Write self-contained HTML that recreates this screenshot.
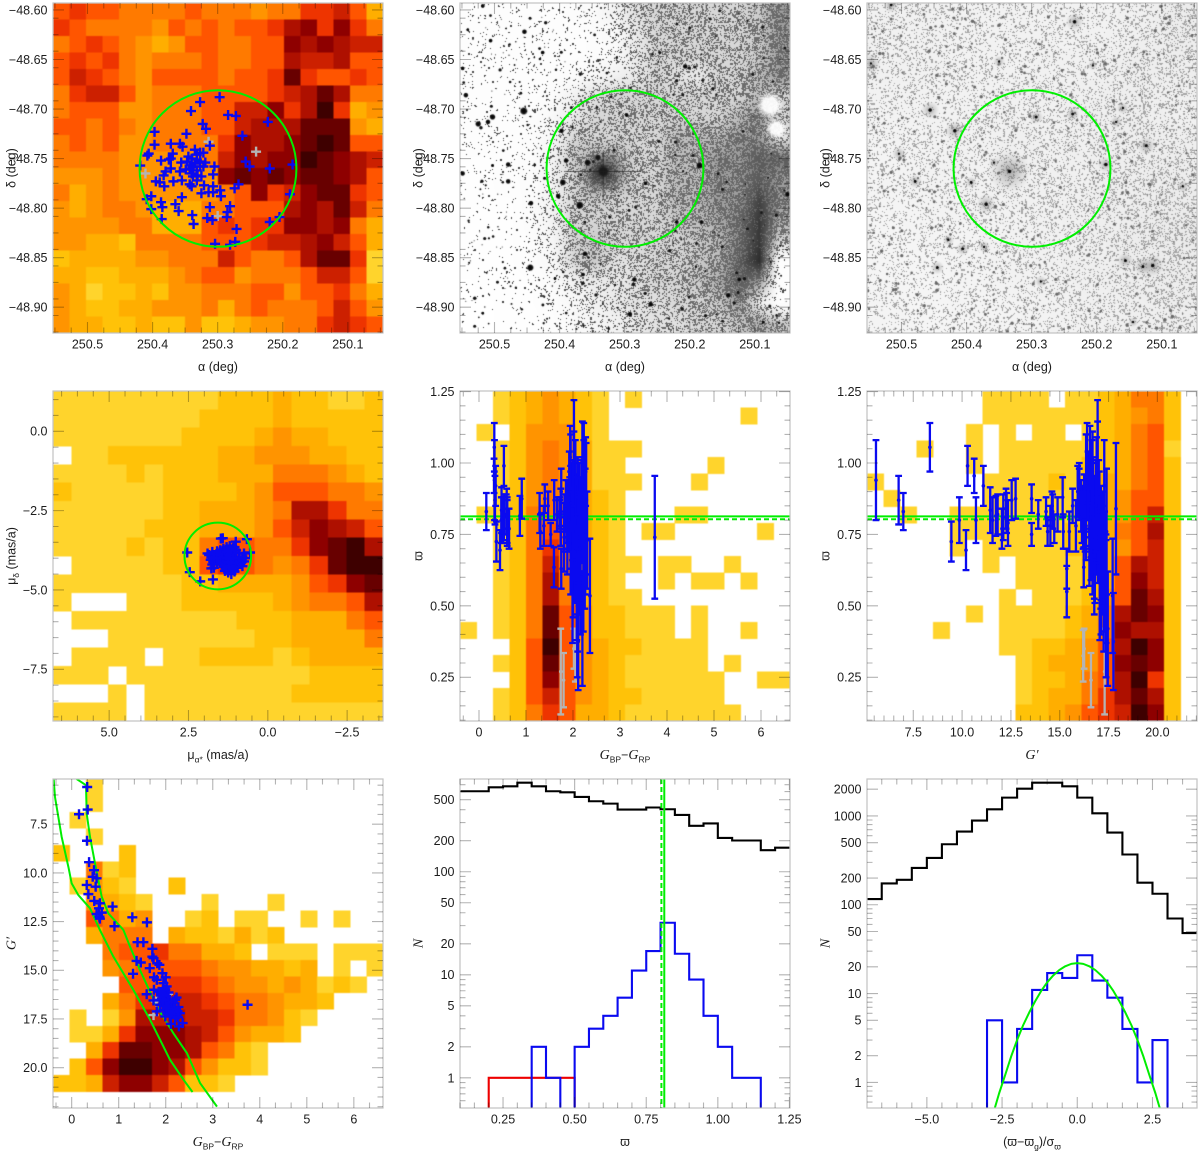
<!DOCTYPE html>
<html lang="en">
<head>
<meta charset="utf-8">
<title>Cluster membership diagnostics</title>
<style>
html,body{margin:0;padding:0;background:#fff;}
#figure{position:relative;width:1200px;height:1154px;overflow:hidden;background:#fff;filter:blur(0.35px);}
#figure canvas{position:absolute;display:block;}
#figure svg{position:absolute;left:0;top:0;}
text{font-family:"Liberation Sans","DejaVu Sans",sans-serif;fill:#1c1c1c;}
.tk{mix-blend-mode:multiply;}
.soft{filter:blur(0.6px);}
</style>
</head>
<body>
<div id="figure">
<canvas id="field-dss" width="330" height="330" style="left:460px;top:3px"></canvas>
<canvas id="field-ir" width="330" height="330" style="left:867px;top:3px"></canvas>
<svg id="chart" width="1200" height="1154" viewBox="0 0 1200 1154" xmlns="http://www.w3.org/2000/svg">
<defs id="clips"></defs>
<g id="p1"></g>
<g id="p2"></g>
<g id="p3"></g>
<g id="p4"></g>
<g id="p5"></g>
<g id="p6"></g>
<g id="p7"></g>
<g id="p8"></g>
<g id="p9"></g>
</svg>
</div>
<script>
/* ---------- data ---------- */
const clusterRa=250.2995, clusterDec=-48.760, clusterRadiusRa=0.1205, clusterRadiusDec=0.079;
const pmCenterRa=1.576, pmCenterDec=-3.93, pmRadius=1.05;
const plxMean=0.813, plxMedian=0.803;

const memberRa=[250.297,250.327,250.341,250.284,250.272,250.223,250.323,250.318,250.397,250.348,250.262,250.312,250.397,250.372,250.358,250.354,250.406,250.408,250.369,250.372,250.375,250.387,250.419,250.356,250.345,250.340,250.332,250.327,250.335,250.322,250.185,250.257,250.251,250.220,250.305,250.372,250.380,250.383,250.358,250.349,250.343,250.335,250.327,250.319,250.332,250.340,250.331,250.325,250.307,250.368,250.355,250.395,250.389,250.382,250.343,250.340,250.321,250.307,250.268,250.274,250.296,250.325,250.314,250.307,250.295,250.189,250.355,250.402,250.409,250.387,250.365,250.385,250.360,250.402,250.312,250.281,250.285,250.286,250.316,250.308,250.339,250.337,250.386,250.220,250.205,250.271,250.304,250.273,250.281,250.347,250.343,250.338,250.332,250.327,250.338,250.332,250.322];
const memberDec=[-48.688,-48.693,-48.702,-48.706,-48.707,-48.713,-48.715,-48.720,-48.723,-48.725,-48.727,-48.737,-48.736,-48.735,-48.735,-48.738,-48.745,-48.747,-48.745,-48.750,-48.751,-48.752,-48.757,-48.754,-48.748,-48.750,-48.746,-48.744,-48.741,-48.744,-48.756,-48.753,-48.758,-48.760,-48.758,-48.760,-48.763,-48.767,-48.763,-48.761,-48.757,-48.755,-48.753,-48.754,-48.762,-48.765,-48.767,-48.768,-48.766,-48.773,-48.772,-48.773,-48.774,-48.778,-48.776,-48.778,-48.777,-48.778,-48.776,-48.780,-48.782,-48.785,-48.784,-48.784,-48.788,-48.786,-48.789,-48.788,-48.791,-48.794,-48.796,-48.799,-48.803,-48.801,-48.799,-48.798,-48.804,-48.809,-48.810,-48.812,-48.807,-48.816,-48.811,-48.814,-48.809,-48.821,-48.836,-48.834,-48.837,-48.753,-48.760,-48.758,-48.751,-48.758,-48.768,-48.772,-48.758];
const rejectRa=[250.314,250.241,250.411,250.300];
const rejectDec=[-48.733,-48.743,-48.765,-48.808];

const pmRa=[1.42,1.48,.66,2.54,.56,2.46,2.13,1.73,1.01,1.85,1.9,1.8,1.75,1.7,1.65,1.78,1.72,1.6,1.55,1.5,1.45,1.4,1.35,1.3,1.25,1.2,1.15,1.1,1.05,1.0,.95,.9,.85,.8,.75,.7,1.5,1.4,1.3,1.2,1.1,1.0,.9,1.45,1.35,1.25,1.15,1.05,.95,1.5,1.4,1.3,1.2,1.1,1.0,1.35,1.25,1.15,1.05,1.3,1.2,1.1,1.25,1.15,1.3,1.2,1.1,1.6,1.55,.8,.75,1.7,1.75,1.25,1.15,1.05];
const pmDec=[-3.37,-3.38,-3.40,-3.82,-3.82,-4.44,-4.73,-4.67,-3.48,-3.9,-3.85,-4.05,-3.8,-4.3,-3.95,-4.32,-4.12,-3.78,-4.0,-3.75,-4.2,-3.7,-4.4,-3.65,-4.45,-3.62,-4.5,-3.68,-4.42,-3.75,-4.3,-3.85,-4.15,-3.95,-4.1,-4.0,-3.9,-3.85,-3.8,-3.78,-3.8,-3.85,-3.95,-4.05,-4.0,-3.95,-3.9,-3.95,-4.1,-4.15,-4.2,-4.1,-4.05,-4.05,-4.2,-4.25,-4.3,-4.2,-4.28,-3.98,-3.92,-4.0,-4.12,-4.15,-4.35,-4.38,-4.35,-4.18,-3.88,-4.25,-3.85,-3.98,-4.2,-3.72,-3.72,-3.65];

const starColor=[.33,.34,.156,.326,.37,.475,.447,.53,.32,.51,.355,.48,.60,.58,.87,.64,.53,.59,.60,1.29,1.6,.91,1.40,1.525,1.716,1.716,1.74,1.38,1.47,1.82,1.865,1.66,1.305,1.93,1.75,2.0,1.81,1.95,2.02,1.595,1.75,2.06,2.23,1.74,1.95,3.74,2.09,2.2,2.27,1.88,2.02,2.13,1.95,2.06,2.16,1.81,2.23,2.09,1.99,2.2,2.36,2.11,2.28,1.88,1.99,2.16,2.02,2.09,1.95,2.2,2.3,2.13,2.06,1.99,1.95,1.9,2.0,2.1,2.15,2.25,1.85,1.92,2.04,2.12,2.18,1.97,2.08,2.22,2.05,1.9,2.14,2.0,2.26,1.94,2.1];
const starG=[5.59,6.75,6.99,8.35,9.45,9.86,10.2,10.28,10.62,10.71,11.09,11.44,11.56,11.82,11.73,12.04,12.11,12.25,12.35,12.28,12.54,12.74,13.56,13.56,13.9,14.3,14.38,14.52,14.6,14.64,14.72,14.89,15.18,15.15,15.36,15.36,15.49,15.66,15.83,16.23,16.0,16.14,16.4,16.55,16.35,16.77,16.52,16.52,16.89,16.77,16.68,16.86,17.03,17.11,17.11,17.11,17.28,17.37,17.37,17.46,17.71,17.75,17.88,16.52,16,16.68,16.94,16.77,16.68,16.94,17.2,17.2,16.52,16.35,15.92,16.3,16.6,16.7,16.9,17.1,16.1,16.45,16.8,16.95,17.0,16.25,17.05,17.3,16.65,16.2,17.15,16.85,17.4,16.55,17.25];
const starPlx=[.94,.87,.83,1.055,.725,.80,.695,.99,.955,.80,.92,.835,.80,.82,.815,.77,.81,.84,.79,.825,.87,.875,.875,.75,.82,.83,.76,.78,.85,.83,.77,.82,.76,.88,.63,.55,.76,.85,.78,.635,.9,.82,1.02,.81,.95,.74,.67,.88,.97,.72,1.0,.86,.8,.72,.62,.74,.92,.5,.55,.42,.535,.375,.84,.82,.9,.76,1.0,.6,.69,.98,.73,.66,.86,.78,.9,.8,.72,.88,.78,.68,.85,.92,.66,.74,.83,.86,.58,.62,.95,.8,.7,.85,.76,1.02,.52];
const starErr=[.14,.085,.065,.085,.07,.08,.07,.07,.06,.08,.07,.08,.08,.07,.07,.07,.08,.07,.08,.07,.07,.07,.05,.04,.05,.05,.05,.07,.05,.06,.05,.06,.06,.07,.07,.09,.07,.06,.09,.07,.08,.1,.12,.1,.15,.215,.1,.14,.12,.11,.11,.14,.17,.2,.22,.12,.16,.25,.18,.2,.2,.17,.23,.12,.1,.15,.22,.13,.15,.165,.17,.19,.1,.12,.09,.11,.13,.14,.17,.19,.09,.12,.15,.16,.18,.1,.2,.21,.13,.1,.19,.16,.22,.11,.18];
const rejectColor=[1.74,1.8,2.05,2.02];
const rejectG=[17.3,16.6,16.2,16.25];
const rejectPlx=[.27,.24,.325,.35];
const rejectErr=[.15,.095,.09,.07];

const isoRedColor=[.106,.305,.319,.39,.496,.638,.78,1.10,1.24,1.45,1.81,2.16,2.45,2.73,3.09];
const isoRedG=[5.18,5.50,6.95,8.15,9.51,11.22,12.08,12.93,13.78,14.98,16.86,18.22,19.25,20.79,22.0];
const isoZamsColor=[-.383,-.355,-.213,-.07,0,.142,.39,.60,.887,1.31,1.667,1.88,2.09,2.376,2.57];
const isoZamsG=[5.18,6.10,8.15,9.69,10.54,11.14,11.82,12.93,14.30,16.0,17.54,18.57,19.59,20.61,21.25];

const plxBinStart=0.10, plxBinWidth=0.05;
const plxAllCounts=[604,604,660,675,732,675,604,590,532,483,458,401,401,420,404,356,279,294,213,201,201,162,171];
const plxMemberCounts=[0,0,0,0,0,2,1,0,2,3,4,6,11,17,32,16,9,4,2,1,1,0,0];
const plxRejectCounts=[0,0,1,1,1,1,1,1,0,0,0,0,0,0,0,0,0,0,0,0,0,0,0];

const zBinStart=-7, zBinWidth=0.5;
const zAllCounts=[116,174,191,260,337,480,667,886,1188,1607,2028,2370,2370,2154,1607,1071,650,368,177,133,70,48];
const zMemberCounts=[0,0,0,0,0,0,0,0,5,1,4,11,17,15,27,14,9,4,1,3,0,0];
const gaussZ=[-2.8,-2.6,-2.4,-2.2,-2,-1.8,-1.6,-1.4,-1.2,-1,-.8,-.6,-.4,-.2,0,.2,.4,.6,.8,1,1.2,1.4,1.6,1.8,2,2.2,2.4,2.6,2.8];
const gaussN=[.44,.75,1.2,1.95,3,4.4,6.1,8.2,10.7,13.4,16,18.4,20.3,21.6,22,21.6,20.3,18.4,16,13.4,10.7,8.2,6.1,4.4,3,1.95,1.2,.75,.44];

const skyDensity=[
[6,7,6,6,5,5,5,5,6,5,5,5,4,5,5,7,7,8,6,3],
[7,6,5,5,5,5,4,6,5,6,5,6,6,7,9,10,7,10,7,5],
[5,6,7,6,5,4,3,4,6,6,5,5,6,6,10,9,10,9,8,8],
[6,7,6,7,5,4,5,5,5,6,5,5,6,6,9,8,8,9,6,6],
[6,8,7,6,5,4,6,6,6,6,5,6,6,7,11,7,6,6,7,6],
[5,7,8,8,6,4,5,5,5,6,6,6,6,7,8,9,11,9,5,5],
[5,6,6,6,4,4,5,5,5,6,6,8,8,10,7,9,12,7,3,4],
[6,6,5,6,5,4,5,5,5,6,6,8,9,9,9,11,11,11,4,3],
[5,6,5,6,4,4,5,5,5,5,7,10,9,9,10,11,12,11,6,6],
[5,5,5,5,4,4,4,4,4,5,8,10,9,10,10,12,11,10,9,8],
[4,4,4,5,4,4,4,4,4,4,10,11,10,11,10,11,11,10,9,6],
[5,3,4,5,4,4,4,4,4,4,5,6,10,7,8,10,11,11,7,6],
[4,3,4,5,5,4,3,3,3,5,5,6,6,6,9,10,9,11,8,5],
[4,4,4,4,5,5,3,3,3,6,7,6,7,7,10,10,9,10,5,3],
[4,4,3,3,2,5,5,5,5,6,6,6,7,8,8,9,10,8,6,3],
[2,3,3,3,3,4,4,5,5,5,8,6,5,5,6,9,11,11,7,1],
[3,3,2,2,3,3,3,4,5,6,6,4,5,5,5,6,8,8,6,1],
[4,3,1,2,2,3,2,4,4,5,5,5,6,6,4,6,6,7,5,3],
[4,3,2,2,3,3,4,4,4,5,3,5,6,5,5,5,6,8,6,4],
[4,3,3,2,2,3,2,2,4,2,2,3,4,4,5,5,7,8,7,6]];

const pmDensity=[
[1,1,1,1,1,1,1,1,1,2,2,2,3,2,2,1,1,2],
[1,1,1,1,1,1,1,1,2,2,2,2,3,2,2,2,2,2],
[1,1,1,1,1,1,1,2,2,2,2,3,4,3,3,2,2,2],
[0,1,1,2,2,2,2,2,2,3,3,4,4,4,3,3,2,2],
[1,1,1,1,2,1,2,2,2,3,3,3,5,5,5,4,3,2],
[2,1,1,1,1,1,2,2,2,2,3,4,6,6,6,5,5,4],
[1,1,1,1,1,1,2,2,3,3,3,4,5,9,9,7,5,5],
[1,1,1,1,1,2,2,2,3,3,3,4,6,8,10,9,8,6],
[1,1,1,1,2,1,2,2,5,6,6,5,5,7,10,11,12,9],
[0,1,1,1,1,1,2,2,6,7,6,5,4,5,7,11,12,12],
[1,1,1,1,1,1,1,2,2,3,3,3,3,4,6,7,10,11],
[1,0,0,0,1,1,1,2,2,2,2,2,3,4,5,5,6,9],
[0,1,1,1,1,1,1,1,1,1,2,2,2,3,3,3,5,6],
[0,0,0,1,1,1,1,1,1,1,1,2,2,3,3,3,3,5],
[0,1,1,1,1,0,1,1,2,2,2,2,1,2,3,3,3,3],
[1,1,1,0,1,1,1,1,1,1,1,1,1,1,2,2,2,2],
[0,0,0,1,0,1,1,1,1,1,1,1,1,2,2,2,2,2],
[1,1,1,1,0,1,1,1,1,1,1,1,1,1,1,1,1,1]];

const plxColorDensity=[
[0,0,1,2,3,4,3,2,1,0,1,0,0,0,0,0,0,0,0,0],
[0,0,1,2,3,4,3,2,1,0,0,0,0,0,0,0,0,1,0,0],
[0,1,0,2,4,4,4,2,1,0,0,0,0,0,0,0,0,0,0,0],
[0,0,1,2,4,5,4,3,1,1,1,0,0,0,0,0,0,0,0,0],
[0,0,1,2,4,5,4,3,1,1,0,0,0,0,0,1,0,0,0,0],
[0,0,1,2,4,5,4,3,1,1,1,0,0,0,1,0,0,0,0,0],
[0,0,1,2,4,5,4,3,2,1,0,0,0,0,0,0,0,0,0,0],
[0,1,1,2,5,5,5,3,2,1,0,0,0,1,1,0,0,0,0,0],
[0,0,1,2,5,6,5,3,2,1,0,1,1,0,0,0,0,0,1,0],
[0,0,1,2,5,7,5,3,2,1,0,0,0,0,0,0,0,0,0,0],
[0,0,1,2,5,8,5,3,2,1,1,0,1,1,0,0,1,0,0,0],
[0,0,1,2,5,9,5,3,2,1,0,0,1,0,1,1,0,1,0,0],
[0,0,1,2,5,9,5,3,2,1,1,0,0,0,0,0,0,0,0,0],
[0,0,1,2,5,11,6,4,2,2,1,1,1,0,1,0,0,0,0,0],
[1,0,1,2,5,11,6,4,2,2,1,1,1,0,1,0,0,1,0,0],
[0,0,0,2,6,12,6,4,3,2,2,1,1,1,1,0,0,0,0,0],
[0,0,1,2,6,11,6,4,3,2,1,1,1,1,1,0,1,0,0,0],
[0,0,0,2,6,10,6,4,3,2,1,1,1,1,1,1,0,0,1,1],
[0,0,1,2,6,8,6,4,3,2,2,1,1,1,1,1,0,0,0,0],
[0,0,1,2,5,7,6,3,3,2,1,1,1,1,1,1,1,0,0,0]];

const plxMagDensity=[
[0,0,0,0,0,0,0,1,1,1,1,0,1,1,2,3,5,5,2,0],
[0,0,0,0,0,0,0,1,1,1,1,1,1,1,2,3,4,5,2,0],
[0,0,0,0,0,0,1,0,1,0,1,1,0,1,2,3,5,6,2,0],
[0,0,0,1,0,0,1,0,1,1,1,1,1,1,2,3,5,6,1,0],
[0,0,0,0,0,0,1,0,1,1,1,1,1,2,2,3,5,6,2,0],
[1,0,0,0,0,0,0,1,1,1,1,2,1,2,3,3,5,6,2,0],
[0,1,0,0,0,0,0,1,1,1,1,1,1,2,3,4,6,6,2,0],
[0,0,1,0,0,1,1,1,1,1,1,1,1,2,3,4,6,8,2,0],
[0,0,0,0,0,1,1,1,1,1,1,1,2,2,3,5,6,9,2,0],
[0,0,0,0,0,1,0,1,1,1,1,1,2,2,3,4,6,8,2,0],
[0,0,0,0,0,0,0,1,0,1,1,1,1,2,3,6,9,8,2,0],
[0,0,0,0,0,0,0,0,0,1,1,1,1,2,3,6,10,8,2,0],
[0,0,0,0,0,0,0,0,1,0,1,1,1,2,4,6,11,9,2,0],
[0,0,0,0,0,0,1,0,1,1,1,1,2,3,5,9,11,10,2,0],
[0,0,0,0,1,0,0,0,1,1,1,1,2,3,5,10,9,9,2,0],
[0,0,0,0,0,0,0,0,1,1,2,2,3,4,6,9,12,10,2,0],
[0,0,0,0,0,0,0,0,0,1,2,3,3,4,6,10,11,10,2,0],
[0,0,0,0,0,0,0,0,0,1,2,2,3,5,6,9,12,7,2,0],
[0,0,0,0,0,0,0,0,0,1,2,3,3,5,7,9,11,9,2,0],
[0,0,0,0,0,0,0,0,0,2,2,3,4,6,7,8,12,10,2,0]];

const cmdDensity=[
[0,0,1,0,0,0,0,0,0,0,0,0,0,0,0,0,0,0,0,0],
[0,0,1,0,0,0,0,0,0,0,0,0,0,0,0,0,0,0,0,0],
[0,1,0,0,0,0,0,0,0,0,0,0,0,0,0,0,0,0,0,0],
[0,0,1,0,0,0,0,0,0,0,0,0,0,0,0,0,0,0,0,0],
[2,0,0,0,2,0,0,0,0,0,0,0,0,0,0,0,0,0,0,0],
[0,0,5,1,2,0,0,0,0,0,0,0,0,0,0,0,0,0,0,0],
[0,1,4,2,1,0,0,2,0,0,0,0,0,0,0,0,0,0,0,0],
[0,0,4,3,2,1,0,0,0,1,0,0,0,1,0,0,0,0,0,0],
[0,0,6,5,3,4,0,0,1,2,0,1,1,0,0,1,0,1,0,0],
[0,0,3,5,5,5,0,3,2,2,1,3,1,2,0,0,0,0,0,0],
[0,0,0,5,6,6,7,5,5,3,3,2,0,1,1,1,0,1,1,1],
[0,0,0,4,5,6,6,6,6,5,4,4,3,3,2,3,0,1,0,1],
[0,0,0,0,6,6,6,7,7,6,5,4,4,3,4,3,1,2,1,0],
[0,0,0,3,5,7,7,8,8,7,6,5,5,4,3,3,2,0,0,0],
[0,1,0,1,4,9,8,9,8,8,7,5,5,4,2,1,0,0,0,0],
[0,1,1,3,7,10,10,10,9,8,6,4,3,3,2,0,0,0,0,0],
[0,0,3,7,11,11,10,10,9,6,5,2,1,0,0,0,0,0,0,0],
[0,2,6,10,12,12,10,9,6,4,2,2,1,0,0,0,0,0,0,0],
[2,2,3,8,10,10,8,6,2,2,1,0,0,0,0,0,0,0,0,0],
[0,0,0,0,0,0,0,0,0,0,0,0,0,0,0,0,0,0,0,0]];

/* Star-field image features (bright stars) */
const opticalStarRa=[250.333,250.357,250.341,250.369,250.395,250.402,250.397,250.390,250.185,250.455,250.525,250.503,250.510,250.479,250.479,250.444,250.445,250.361,250.454,250.506,250.541,250.549,250.544,250.207,250.426,250.518,250.285,250.260,250.292,250.141,250.124,250.518,250.549,250.503,250.050,250.220,250.182,250.407,250.364,250.268,250.297,250.087];
const opticalStarDec=[-48.763,-48.754,-48.749,-48.797,-48.774,-48.788,-48.722,-48.752,-48.757,-48.702,-48.715,-48.708,-48.713,-48.756,-48.773,-48.795,-48.860,-48.846,-48.622,-48.631,-48.620,-48.659,-48.686,-48.657,-48.643,-48.596,-48.872,-48.897,-48.907,-48.888,-48.872,-48.906,-48.765,-48.757,-48.786,-48.814,-48.814,-48.871,-48.867,-48.775,-48.706,-48.915];
const opticalStarSize=[6.5,3.8,3.5,4.5,3.8,3,3,3,3.8,4.5,3.5,3.5,3,3,3,3,4,3,3,2.5,2,2.5,3,3,2.5,2.5,3,3,3,3,2.5,2,3,2,3,2.5,2.5,2,2.5,2.5,2.5,2];
const whiteBlobRa=[250.077,250.067];
const whiteBlobDec=[-48.696,-48.720];
const whiteBlobSize=[14,11];
const irStarRa=[250.334,250.370,250.418,250.456,250.479,250.504,250.547,250.350,250.234,250.237,250.293,250.124,250.186,250.114,250.129,250.156,250.445,250.406,250.428,250.373,250.516,250.393,250.358,250.286,250.206,250.144,250.068,250.160,250.170];
const irStarDec=[-48.763,-48.796,-48.722,-48.701,-48.773,-48.745,-48.654,-48.652,-48.612,-48.705,-48.708,-48.737,-48.756,-48.858,-48.859,-48.853,-48.860,-48.841,-48.832,-48.839,-48.595,-48.774,-48.754,-48.874,-48.656,-48.915,-48.778,-48.699,-48.713];
const irStarSize=[3,3,3,3,2.5,2,2,2,3,2.5,2.5,2.5,3,3,2.5,2.5,2.5,2.5,2,2,2.5,2.5,2,2,2,2,2,2,2];
const irStarGlow=[21,10,10,9,7,7,10,6,9,7,7,9,8,11,9,8,7,7,6,6,8,6,5,6,5,5,6,6,6];

const opticalTone=[
[.4,.4,.4,.4,.4,.5,.8,1.5,2.5,3,3,3,3,3,3.5,5],
[.4,.4,.4,.4,.4,.4,.5,.8,2,3,3,3,3,3,3.5,5],
[.4,.4,.4,.4,.4,.4,.5,.8,2,3,3,3,3,3,3.5,5],
[.4,.4,.4,.4,.4,.6,1,1.5,2,3,2.5,2,3,3,4,5],
[.4,.4,.4,.4,.6,1.5,2.5,3,3,3,3,3,3,3,4,3],
[.4,.4,.4,.5,1,2,3,3,3,3,3,3,3,4,5,3],
[.4,.4,.4,.5,1.2,3,3,3,3,3,4,4,4,5,5,2.5],
[.3,.3,.4,.6,1.5,3.5,4.5,4.5,3,3,4,4,5,5,6,6],
[.3,.3,.4,.6,1.5,3,5.5,5,3,3,4,4,5,5,6,5],
[.3,.3,.3,.6,1.5,3,3.5,3,3,3,4,4,5,5,7,5],
[.2,.3,.3,.6,1.5,3,3,3,3,3,3.5,4,4.5,5.5,7.5,4.5],
[.2,.2,.3,.5,1.2,3,3.5,3,3,3,3,3.5,4,5.5,7.5,3],
[.2,.2,.3,.5,1,3,3.5,2.5,2.5,3,3,3.5,4,6,8,.3],
[.1,.2,.2,.3,.7,1.5,2,2,2.5,3,3,3.5,4.5,6,5,.2],
[.1,.1,.2,.3,.5,1,1.5,2,2.5,2.5,3,3,3.5,5,2,.2],
[.1,.1,.2,.2,.4,.8,1.2,1.5,2,2.5,2.5,3,3,3.5,4.5,3.5]];
const irTone=[
[1.1,1.1,1,1,1,1,1.1,1.4],
[1.1,1.1,1,1,1.1,1.1,1.3,1.3],
[1,1,1,1.1,1.1,1.2,1.3,1.1],
[.9,1,1,1.2,1.1,1.2,1.3,1.3],
[.9,1,1,1.1,1.1,1.2,1.3,1.4],
[.8,.9,.9,1,1.1,1.2,1.4,1.5],
[.8,.8,.9,1,1.1,1.2,1.3,1.4],
[.9,.8,.9,.9,1,1.1,1.2,1.3]];

/* ---------- palette ---------- */
const heatPalette=[null,'#ffd42c','#ffc208','#ffae00','#ff9400','#ff7a00','#ff5500','#ee3400','#cc2000','#ae1000','#8e0000','#680000','#3e0000'];
const GREEN='#00ee00',BLUE='#0a0af0',GREY='#b4b4b4';

/* ---------- helpers ---------- */
const NS='http://www.w3.org/2000/svg';
function node(tag,attrs,parent){const e=document.createElementNS(NS,tag);for(const k in attrs)e.setAttribute(k,attrs[k]);if(parent)parent.appendChild(e);return e;}
function linear(d0,d1,r0,r1){return v=>r0+(v-d0)/(d1-d0)*(r1-r0);}
function logar(d0,d1,r0,r1){const a=Math.log10(d0),b=Math.log10(d1);return v=>r0+(Math.log10(v)-a)/(b-a)*(r1-r0);}
function f(n){return (+n).toFixed(2);}
function minus(s){return s.replace('-','\u2212');}

function makePanel(id,x0,y0,xd,yd,yLog){
  const g=document.getElementById(id),w=330,h=id==='p7'||id==='p8'||id==='p9'?329:330;
  const p={g,x0,y0,x1:x0+w,y1:y0+h,xd,yd,id};
  p.x=linear(xd[0],xd[1],x0,x0+w);
  p.y=yLog?logar(yd[0],yd[1],y0+h,y0):linear(yd[0],yd[1],y0,y0+h);
  const c=node('clipPath',{id:'clip-'+id},document.getElementById('clips'));
  node('rect',{x:x0,y:y0,width:w,height:h},c);
  p.clip='url(#clip-'+id+')';
  return p;
}
function heatmap(p,rows){
  const outer=node('g',{'clip-path':p.clip},p.g);
  
  
  const g=node('g',{'shape-rendering':'crispEdges',class:'soft'},outer);
  
  
  const nr=rows.length,nc=rows[0].length;
  const dx=(p.xd[1]-p.xd[0])/nc,dy=(p.yd[1]-p.yd[0])/nr;
  rows.forEach((row,j)=>row.forEach((v,i)=>{
    if(!v)return;
    const xa=p.x(p.xd[0]+i*dx),xb=p.x(p.xd[0]+(i+1)*dx),ya=p.y(p.yd[0]+j*dy),yb=p.y(p.yd[0]+(j+1)*dy);
    const r=node('rect',{x:f(xa),y:f(ya),width:f(xb-xa+.3),height:f(yb-ya+.3),fill:heatPalette[v]},g);
    
    
  }));
}
function crosses(p,xs,ys,color,name){
  const g=node('g',{stroke:color,'stroke-width':2.4,fill:'none','clip-path':p.clip},p.g);
  
  
  xs.forEach((v,i)=>{
    const X=p.x(v),Y=p.y(ys[i]);
    const c=node('path',{d:`M${f(X-5)} ${f(Y)}H${f(X+5)}M${f(X)} ${f(Y-5)}V${f(Y+5)}`},g);
    
    
  });
}
function errorBars(p,xs,ys,es,color,name){
  const g=node('g',{stroke:color,fill:color,'clip-path':p.clip},p.g);
  
  
  xs.forEach((v,i)=>{
    const X=p.x(v),Y=p.y(ys[i]),Ya=p.y(ys[i]+es[i]),Yb=p.y(ys[i]-es[i]);
    const b=node('path',{d:`M${f(X)} ${f(Ya)}V${f(Yb)}M${f(X-3.4)} ${f(Ya)}H${f(X+3.4)}M${f(X-3.4)} ${f(Yb)}H${f(X+3.4)}`,'stroke-width':2.3,fill:'none'},g);
    
    
    const d=node('circle',{cx:f(X),cy:f(Y),r:1.8,stroke:'none'},g);
    
    
  });
}
function ring(p,cx,cy,rx,ry,name){
  const e=node('ellipse',{cx:f(p.x(cx)),cy:f(p.y(cy)),rx:f(Math.abs(p.x(cx+rx)-p.x(cx))),ry:f(Math.abs(p.y(cy+ry)-p.y(cy))),fill:'none',stroke:GREEN,'stroke-width':2},p.g);
  
  
}
function steps(p,start,width,counts,color,name,floorY){
  let d='',first=true;
  counts.forEach((c,i)=>{
    const a=p.x(start+i*width),b=p.x(start+(i+1)*width),Y=c>0?p.y(c):floorY;
    d+=(first?'M':'L')+f(a)+' '+f(Y)+'L'+f(b)+' '+f(Y);first=false;
  });
  const s=node('path',{d,fill:'none',stroke:color,'stroke-width':2.1,'stroke-linejoin':'miter','clip-path':p.clip},p.g);
  
  
}
function polyline(p,xs,ys,name){
  const pts=xs.map((v,i)=>f(p.x(v))+','+f(p.y(ys[i]))).join(' ');
  const l=node('polyline',{points:pts,fill:'none',stroke:GREEN,'stroke-width':2,'stroke-linejoin':'round','clip-path':p.clip},p.g);
  
  
}
function hline(p,v,dash,name){
  const l=node('line',{x1:p.x0,x2:p.x1,y1:f(p.y(v)),y2:f(p.y(v)),stroke:GREEN,'stroke-width':2},p.g);
  if(dash)l.setAttribute('stroke-dasharray',dash);
  
  
}
function vline(p,v,dash,name){
  const l=node('line',{y1:p.y0,y2:p.y1,x1:f(p.x(v)),x2:f(p.x(v)),stroke:GREEN,'stroke-width':2},p.g);
  if(dash)l.setAttribute('stroke-dasharray',dash);
  
  
}
function rich(parent,x,y,segs,rotate){
  const t=node('text',{x,y,'text-anchor':'middle','font-size':12.5},parent);
  if(rotate)t.setAttribute('transform',`rotate(-90 ${x} ${y})`);
  let shift=0;
  segs.forEach(s=>{
    const sp=node('tspan',{},t);
    const want=s.sub?3.5:0;
    if(want!==shift){sp.setAttribute('dy',want-shift);shift=want;}
    if(s.sub)sp.setAttribute('font-size','8.5');
    if(s.it){sp.setAttribute('font-style','italic');sp.setAttribute('font-family','"Liberation Serif","DejaVu Serif",serif');sp.setAttribute('font-size',s.sub?'8.5':'14');}
    sp.textContent=s.t;
  });
  return t;
}
function axes(p,o){
  const frame=node('rect',{x:p.x0,y:p.y0,width:p.x1-p.x0,height:p.y1-p.y0,fill:'none',stroke:'#c2c2c2','stroke-width':1.2},p.g);
  
  
  let d='';
  const inX=v=>v>=Math.min(...p.xd)&&v<=Math.max(...p.xd), inY=v=>v>=Math.min(...p.yd)&&v<=Math.max(...p.yd);
  const M=11,m=5.5;
  o.xTicks.forEach(v=>{const X=f(p.x(v));d+=`M${X} ${p.y0}v${M}M${X} ${p.y1}v-${M}`;});
  o.xMinor.forEach(v=>{if(!inX(v))return;const X=f(p.x(v));d+=`M${X} ${p.y0}v${m}M${X} ${p.y1}v-${m}`;});
  o.yTicks.forEach(v=>{const Y=f(p.y(v));d+=`M${p.x0} ${Y}h${M}M${p.x1} ${Y}h-${M}`;});
  o.yMinor.forEach(v=>{if(!inY(v))return;const Y=f(p.y(v));d+=`M${p.x0} ${Y}h${m}M${p.x1} ${Y}h-${m}`;});
  const tk=node('path',{d,fill:'none',stroke:'#b4b4b4','stroke-width':1.1,class:'tk'},p.g);
  
  
  const tickY=p.y1+15.5;
  o.xTicks.forEach((v,i)=>{
    const t=node('text',{x:f(p.x(v)),y:tickY,'text-anchor':'middle','font-size':12.5},p.g);
    t.textContent=minus(o.xLabels[i]);
    
    
  });
  o.yTicks.forEach((v,i)=>{
    const t=node('text',{x:p.x0-5.5,y:f(p.y(v)+4.4),'text-anchor':'end','font-size':12.5},p.g);
    t.textContent=minus(o.yLabels[i]);
    
    
  });
  const xt=rich(p.g,(p.x0+p.x1)/2,p.y1+38,o.xTitle,false);
  
  
  const yt=rich(p.g,p.x0-37.5,(p.y0+p.y1)/2,o.yTitle,true);
  
  
}
function stepsFrom(a,b,s){const r=[];for(let i=0;a+i*s<=b+1e-9;i++)r.push(+(a+i*s).toFixed(5));return r;}
function logMinors(lo,hi){const r=[];for(let e=lo;e<=hi;e++)for(let k=1;k<10;k++)r.push(k*Math.pow(10,e));return r;}

/* ---------- tick definitions ---------- */
const raTicks=[250.5,250.4,250.3,250.2,250.1], raLabels=['250.5','250.4','250.3','250.2','250.1'];
const decTicks=[-48.6,-48.65,-48.7,-48.75,-48.8,-48.85,-48.9], decLabels=['-48.60','-48.65','-48.70','-48.75','-48.80','-48.85','-48.90'];
const skyAxes={xTicks:raTicks,xLabels:raLabels,xMinor:stepsFrom(250.05,250.55,.025),yTicks:decTicks,yLabels:decLabels,yMinor:stepsFrom(-48.925,-48.6,.0166667),xTitle:[{t:'\u03b1 (deg)'}],yTitle:[{t:'\u03b4 (deg)'}]};
const colorTicks=[0,1,2,3,4,5,6], colorLabels=['0','1','2','3','4','5','6'];
const plxTicks=[.25,.5,.75,1,1.25], plxLabels=['0.25','0.50','0.75','1.00','1.25'];
const magTicks=[7.5,10,12.5,15,17.5,20], magLabels=['7.5','10.0','12.5','15.0','17.5','20.0'];
const colorTitle=[{t:'G',it:1},{t:'BP',sub:1},{t:'\u2212'},{t:'G',it:1},{t:'RP',sub:1}];
const varpi='\u03d6';

/* ---------- panels ---------- */
const raD=[250.553,250.046],decD=[-48.593,-48.926];
const p1=makePanel('p1',53,3,raD,decD);
heatmap(p1,skyDensity);
crosses(p1,rejectRa,rejectDec,GREY,'rejected-stars');
crosses(p1,memberRa,memberDec,BLUE,'member-stars');
ring(p1,clusterRa,clusterDec,clusterRadiusRa,clusterRadiusDec,'cluster-radius-circle');
axes(p1,skyAxes);

const p2=makePanel('p2',460,3,raD,decD);
ring(p2,clusterRa,clusterDec,clusterRadiusRa,clusterRadiusDec,'cluster-radius-circle');
axes(p2,skyAxes);
const p3=makePanel('p3',867,3,raD,decD);
ring(p3,clusterRa,clusterDec,clusterRadiusRa,clusterRadiusDec,'cluster-radius-circle');
axes(p3,skyAxes);

const p4=makePanel('p4',53,391,[6.77,-3.63],[1.27,-9.13]);
heatmap(p4,pmDensity);
crosses(p4,pmRa,pmDec,BLUE,'member-stars');
ring(p4,pmCenterRa,pmCenterDec,pmRadius,pmRadius,'proper-motion-circle');
axes(p4,{xTicks:[5,2.5,0,-2.5],xLabels:['5.0','2.5','0.0','-2.5'],xMinor:stepsFrom(-3.5,6.5,.5),yTicks:[0,-2.5,-5,-7.5],yLabels:['0.0','-2.5','-5.0','-7.5'],yMinor:stepsFrom(-9,1,.5),
  xTitle:[{t:'\u03bc'},{t:'\u03b1*',sub:1},{t:' (mas/a)'}],yTitle:[{t:'\u03bc'},{t:'\u03b4',sub:1},{t:' (mas/a)'}]});

const p5=makePanel('p5',460,391,[-.404,6.617],[1.252,.097]);
heatmap(p5,plxColorDensity);
hline(p5,plxMean,null,'mean-parallax-line');
hline(p5,plxMedian,'5 3','median-parallax-line');
errorBars(p5,rejectColor,rejectPlx,rejectErr,GREY,'rejected-parallaxes');
errorBars(p5,starColor,starPlx,starErr,BLUE,'member-parallaxes');
axes(p5,{xTicks:colorTicks,xLabels:colorLabels,xMinor:stepsFrom(-.3333,6.6,.33333),yTicks:plxTicks,yLabels:plxLabels,yMinor:stepsFrom(.1,1.25,.05),xTitle:colorTitle,yTitle:[{t:varpi}]});

const p6=makePanel('p6',867,391,[5.13,22.03],[1.252,.097]);
heatmap(p6,plxMagDensity);
hline(p6,plxMean,null,'mean-parallax-line');
hline(p6,plxMedian,'5 3','median-parallax-line');
errorBars(p6,rejectG,rejectPlx,rejectErr,GREY,'rejected-parallaxes');
errorBars(p6,starG,starPlx,starErr,BLUE,'member-parallaxes');
axes(p6,{xTicks:magTicks,xLabels:magLabels,xMinor:stepsFrom(5.5,22,.5),yTicks:plxTicks,yLabels:plxLabels,yMinor:stepsFrom(.1,1.25,.05),xTitle:[{t:'G\u2032',it:1}],yTitle:[{t:varpi}]});

const p7=makePanel('p7',53,779,[-.397,6.62],[5.18,22.07]);
heatmap(p7,cmdDensity);
polyline(p7,isoZamsColor,isoZamsG,'unreddened-isochrone');
polyline(p7,isoRedColor,isoRedG,'reddened-isochrone');
crosses(p7,rejectColor,rejectG,GREY,'rejected-stars');
crosses(p7,starColor,starG,BLUE,'member-stars');
axes(p7,{xTicks:colorTicks,xLabels:colorLabels,xMinor:stepsFrom(-.3333,6.6,.33333),yTicks:magTicks,yLabels:magTicks.map(v=>v.toFixed(1)),yMinor:stepsFrom(5.5,22,.5),xTitle:colorTitle,yTitle:[{t:'G\u2032',it:1}]});

const p8=makePanel('p8',460,779,[.0997,1.252],[.51,794],true);
steps(p8,plxBinStart,plxBinWidth,plxRejectCounts,'#ee0000','rejected-histogram',p8.y1+6);
steps(p8,plxBinStart,plxBinWidth,plxMemberCounts,BLUE,'member-histogram',p8.y1+6);
steps(p8,plxBinStart,plxBinWidth,plxAllCounts,'#000','field-histogram',p8.y1+6);
vline(p8,plxMean,null,'mean-parallax-line');
vline(p8,plxMedian,'5 3','median-parallax-line');
axes(p8,{xTicks:plxTicks,xLabels:plxLabels,xMinor:stepsFrom(.1,1.25,.05),yTicks:[1,2,5,10,20,50,100,200,500],yLabels:['1','2','5','10','20','50','100','200','500'],yMinor:logMinors(-1,2),xTitle:[{t:varpi}],yTitle:[{t:'N',it:1}]});

const p9=makePanel('p9',867,779,[-6.99,3.98],[.515,2605],true);
steps(p9,zBinStart,zBinWidth,zMemberCounts,BLUE,'member-histogram',p9.y1+6);
steps(p9,zBinStart,zBinWidth,zAllCounts,'#000','field-histogram',p9.y1+6);
polyline(p9,gaussZ,gaussN,'gaussian-fit-curve');
axes(p9,{xTicks:[-5,-2.5,0,2.5],xLabels:['-5.0','-2.5','0.0','2.5'],xMinor:stepsFrom(-6.5,3.5,.5),yTicks:[1,2,5,10,20,50,100,200,500,1000,2000],yLabels:['1','2','5','10','20','50','100','200','500','1000','2000'],yMinor:logMinors(-1,3),
  xTitle:[{t:'('+varpi+'\u2212'+varpi},{t:'g',sub:1},{t:')/\u03c3'},{t:varpi,sub:1}],yTitle:[{t:'N',it:1}]});

/* ---------- star-field images (photographic texture, not chart data) ---------- */
function paintField(id,panel,tone,toneStep,contrast,pepper,dotCount,dotShade,ras,decs,sizes,sizeMult,glows){
  const cv=document.getElementById(id),ctx=cv.getContext('2d'),W=330,H=330;
  let seed=id.length*7919+12345;
  const rnd=()=>{seed=(seed*1664525+1013904223)>>>0;return seed/4294967296;};
  const coarse=new Float32Array(166*166);
  for(let k=0;k<coarse.length;k++)coarse[k]=rnd();
  const img=ctx.createImageData(W,H),nr=tone.length,nc=tone[0].length;
  for(let y=0;y<H;y++)for(let x=0;x<W;x++){
    const gx=Math.max(0,Math.min(nc-1.001,x/W*nc-.5)),gy=Math.max(0,Math.min(nr-1.001,y/H*nr-.5));
    const i=gx|0,j=gy|0,a=gx-i,b=gy-j;
    const t=(tone[j][i]*(1-a)+tone[j][i+1]*a)*(1-b)+(tone[j+1][i]*(1-a)+tone[j+1][i+1]*a)*b;
    const m=255-t*toneStep;
    const u=rnd()<.6?coarse[(y>>1)*166+(x>>1)]:rnd();
    const sp=u<(255-m)/(255-pepper)?pepper:255;
    const c=contrast*Math.max(.15,1-t/7);
    const v=m*(1-c)+sp*c;
    const o=(y*W+x)*4;
    img.data[o]=img.data[o+1]=img.data[o+2]=v;img.data[o+3]=255;
  }
  ctx.putImageData(img,0,0);
  ctx.fillStyle=dotShade;
  for(let k=0;k<dotCount;k++){
    const u=rnd(),r=.5+u*u*u*1.3;
    ctx.beginPath();ctx.arc(rnd()*W,rnd()*H,r,0,7);ctx.fill();
  }
  ras.forEach((ra,i)=>{
    const X=panel.x(ra)-panel.x0,Y=panel.y(decs[i])-panel.y0;
    if(glows){
      const g=glows[i],gr=ctx.createRadialGradient(X,Y,0,X,Y,g);
      gr.addColorStop(0,'rgba(70,70,70,.45)');gr.addColorStop(.5,'rgba(110,110,110,.22)');gr.addColorStop(1,'rgba(140,140,140,0)');
      ctx.fillStyle=gr;ctx.beginPath();ctx.arc(X,Y,g,0,7);ctx.fill();
    }
    const R=sizes[i]*sizeMult,gr2=ctx.createRadialGradient(X,Y,0,X,Y,R);
    gr2.addColorStop(0,'rgba(0,0,0,1)');gr2.addColorStop(.6,'rgba(10,10,10,.95)');gr2.addColorStop(1,'rgba(30,30,30,0)');
    ctx.fillStyle=gr2;ctx.beginPath();ctx.arc(X,Y,R,0,7);ctx.fill();
  });
}
paintField('field-dss',p2,opticalTone,26,.85,35,430,'#161616',opticalStarRa,opticalStarDec,opticalStarSize,.95,null);
(function(){
  const ctx=document.getElementById('field-dss').getContext('2d');
  const X=p2.x(250.333)-p2.x0,Y=p2.y(-48.763)-p2.y0;
  const gr=ctx.createRadialGradient(X,Y,2,X,Y,22);
  gr.addColorStop(0,'rgba(30,30,30,.75)');gr.addColorStop(1,'rgba(60,60,60,0)');
  ctx.fillStyle=gr;ctx.beginPath();ctx.arc(X,Y,22,0,7);ctx.fill();
  ctx.strokeStyle='rgba(30,30,30,.7)';ctx.lineWidth=1;
  ctx.beginPath();ctx.moveTo(X-38,Y);ctx.lineTo(X+38,Y);ctx.moveTo(X,Y-20);ctx.lineTo(X,Y+28);ctx.stroke();
  whiteBlobRa.forEach((ra,i)=>{
    const bx=p2.x(ra)-p2.x0,by=p2.y(whiteBlobDec[i])-p2.y0,r=whiteBlobSize[i];
    const w=ctx.createRadialGradient(bx,by,r*.5,bx,by,r);
    w.addColorStop(0,'rgba(255,255,255,.95)');w.addColorStop(1,'rgba(255,255,255,0)');
    ctx.fillStyle=w;ctx.beginPath();ctx.arc(bx,by,r,0,7);ctx.fill();
  });
})();
paintField('field-ir',p3,irTone,26,.6,110,1300,'#6a6a6a',irStarRa,irStarDec,irStarSize,.75,irStarGlow);
</script>
</body>
</html>
